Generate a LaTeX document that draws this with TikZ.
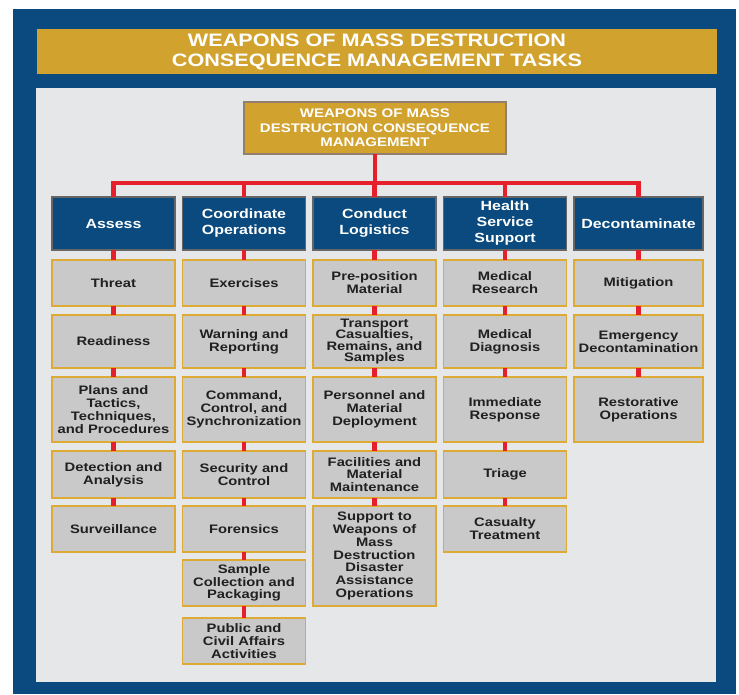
\documentclass[tikz,border=0pt]{standalone}
\usepackage{fontspec}
\setmainfont{Liberation Sans}[FakeStretch=1.2]
\usetikzlibrary{positioning}
\definecolor{wmdnavy}{HTML}{0A4A7E}
\definecolor{wmdgold}{HTML}{D1A22E}
\definecolor{wmdpanel}{HTML}{E6E7E8}
\definecolor{wmdbox}{HTML}{C9C9CA}
\definecolor{wmdedge}{HTML}{DEAA36}
\definecolor{wmdred}{HTML}{E5202B}
\definecolor{wmdtext}{HTML}{202020}
\tikzset{
  banner/.style={fill=wmdgold, text=white, font=\bfseries\fontsize{18}{20}\selectfont,
    align=center, minimum width=680pt, minimum height=45pt, inner sep=0pt},
  topbox/.style={fill=wmdgold, draw=gray!70!brown, line width=1.2pt, text=white,
    font=\bfseries\fontsize{12.5}{14.5}\selectfont, align=center,
    minimum width=262pt, minimum height=52pt, inner sep=0pt, outer sep=0pt},
  head/.style={fill=wmdnavy, draw=gray!80!black, line width=1.2pt, text=white,
    font=\bfseries\fontsize{13.3}{16}\selectfont, align=center, text width=121pt,
    minimum width=123pt, minimum height=53pt, inner sep=0pt, outer sep=0pt},
  task/.style={fill=wmdbox, draw=wmdedge, line width=1.2pt, text=wmdtext,
    font=\bfseries\fontsize{12.3}{12.8}\selectfont, align=center, text width=121pt,
    minimum width=123pt, minimum height=#1, inner sep=0pt, outer sep=0pt},
  wide/.style={minimum width=129pt, text width=127pt},
  link/.style={draw=wmdred, line width=4.5pt},
  node distance=9pt
}
\begin{document}
\begin{tikzpicture}[x=1pt,y=1pt]
  \useasboundingbox (0,0) rectangle (739,694);
  \fill[wmdnavy] (13,0) rectangle (736,685);
  \fill[wmdpanel] (36,12) rectangle (716,606);
  \node[banner] (title) at (377,642.5) {WEAPONS OF MASS DESTRUCTION\\CONSEQUENCE MANAGEMENT TASKS};
  \node[topbox] (top) at (375,566) {WEAPONS OF MASS\\DESTRUCTION CONSEQUENCE\\MANAGEMENT};
  \coordinate (bus) at ([yshift=-29pt]top.south);

  \node[head, anchor=north west] (assess) at (52,497) {Assess};
  \node[head, right=7.5pt of assess] (coord) {Coordinate\\Operations};
  \node[head, right=7.5pt of coord] (logist) {Conduct\\Logistics};
  \node[head, right=7.5pt of logist] (health) {Health\\Service\\Support};
  \node[head, wide, right=7.5pt of health] (decon) {Decontaminate};

  \node[task=46pt, below=10pt of assess] (a1) {Threat};
  \node[task=53pt, below=of a1] (a2) {Readiness};
  \node[task=65pt, below=of a2] (a3) {Plans and\\Tactics,\\Techniques,\\and Procedures};
  \node[task=47pt, below=of a3] (a4) {Detection and\\Analysis};
  \node[task=46pt, below=8pt of a4] (a5) {Surveillance};

  \node[task=46pt, below=10pt of coord] (c1) {Exercises};
  \node[task=53pt, below=of c1] (c2) {Warning and\\Reporting};
  \node[task=65pt, below=of c2] (c3) {Command,\\Control, and\\Synchronization};
  \node[task=47pt, below=of c3] (c4) {Security and\\Control};
  \node[task=46pt, below=8pt of c4] (c5) {Forensics};
  \node[task=46pt, below=8pt of c5] (c6) {Sample\\Collection and\\Packaging};
  \node[task=46pt, below=12pt of c6] (c7) {Public and\\Civil Affairs\\Activities};

  \node[task=46pt, below=10pt of logist] (l1) {Pre-position\\Material};
  \node[task=53pt, below=of l1, font=\bfseries\fontsize{12.3}{11.6}\selectfont] (l2) {Transport\\Casualties,\\Remains, and\\Samples};
  \node[task=65pt, below=of l2] (l3) {Personnel and\\Material\\Deployment};
  \node[task=47pt, below=of l3] (l4) {Facilities and\\Material\\Maintenance};
  \node[task=100pt, below=8pt of l4] (l5) {Support to\\Weapons of\\Mass\\Destruction\\Disaster\\Assistance\\Operations};

  \node[task=46pt, below=10pt of health] (h1) {Medical\\Research};
  \node[task=53pt, below=of h1] (h2) {Medical\\Diagnosis};
  \node[task=65pt, below=of h2] (h3) {Immediate\\Response};
  \node[task=47pt, below=of h3] (h4) {Triage};
  \node[task=46pt, below=8pt of h4] (h5) {Casualty\\Treatment};

  \node[task=46pt, wide, below=10pt of decon] (d1) {Mitigation};
  \node[task=53pt, wide, below=of d1] (d2) {Emergency\\Decontamination};
  \node[task=65pt, wide, below=of d2] (d3) {Restorative\\Operations};

  \draw[link] (top) -- (bus);
  \foreach \n in {assess,coord,logist,health,decon}
    \draw[link] (bus) -| (\n);
  \foreach \a/\b in {assess/a1,a1/a2,a2/a3,a3/a4,a4/a5,
      coord/c1,c1/c2,c2/c3,c3/c4,c4/c5,c5/c6,c6/c7,
      logist/l1,l1/l2,l2/l3,l3/l4,l4/l5,
      health/h1,h1/h2,h2/h3,h3/h4,h4/h5,
      decon/d1,d1/d2,d2/d3}
    \draw[link] (\a) -- (\b);
\end{tikzpicture}
\end{document}
